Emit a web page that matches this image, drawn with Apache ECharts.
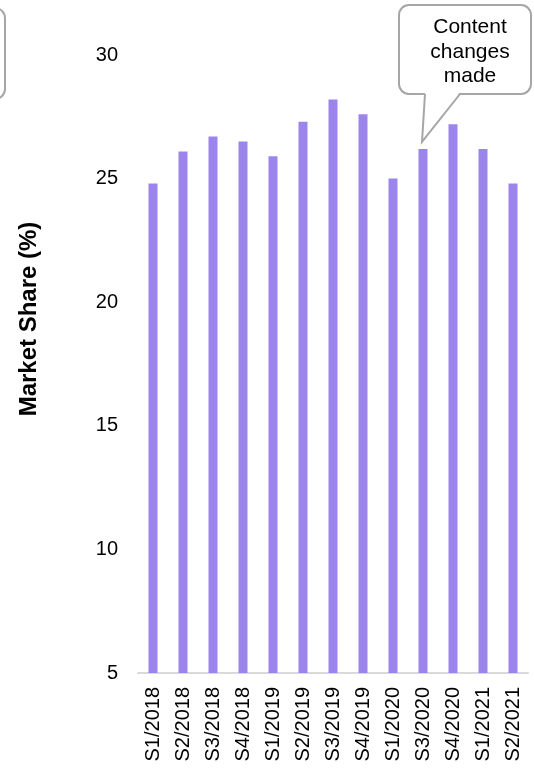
<!DOCTYPE html>
<html>
<head>
<meta charset="utf-8">
<script src="https://cdn.jsdelivr.net/npm/echarts@6/dist/echarts.min.js"></script>
<style>
html,body{margin:0;padding:0;background:#fff;}
#main{width:534px;height:769px;}
</style>
</head>
<body>
<div id="main"></div>
<script>
var categories = ['S1/2018','S2/2018','S3/2018','S4/2018','S1/2019','S2/2019','S3/2019','S4/2019','S1/2020','S3/2020','S4/2020','S1/2021','S2/2021'];
var marketShare = [24.8, 26.1, 26.7, 26.5, 25.9, 27.3, 28.2, 27.6, 25.0, 26.2, 27.2, 26.2, 24.8];
var yTicks = [5, 10, 15, 20, 25, 30];
var axisTitle = 'Market Share (%)';
var calloutText = 'Content\nchanges\nmade';
var calloutCategory = 'S3/2020';

var FONT = '"Liberation Sans", Arial, sans-serif';
var chart = echarts.init(document.getElementById('main'), null, {renderer: 'canvas'});

var option = {
  animation: false,
  backgroundColor: '#ffffff',
  grid: {left: 138, right: 6, top: 55, bottom: 96, containLabel: false},
  xAxis: {
    type: 'category',
    data: categories,
    axisLine: {show: true, lineStyle: {color: '#d9d9d9', width: 2}},
    axisTick: {show: false},
    axisLabel: {rotate: 90, interval: 0, margin: 14, color: '#000', fontSize: 20, fontFamily: FONT}
  },
  yAxis: {
    type: 'value',
    min: yTicks[0],
    max: yTicks[yTicks.length - 1],
    interval: yTicks[1] - yTicks[0],
    axisLine: {show: false},
    axisTick: {show: false},
    splitLine: {show: false},
    axisLabel: {margin: 20, color: '#000', fontSize: 20, fontFamily: FONT}
  },
  series: [{
    type: 'bar',
    data: marketShare,
    barWidth: 9,
    itemStyle: {color: '#9b84ec'}
  }]
};
chart.setOption(option);

var ci = categories.indexOf(calloutCategory);
var tip = chart.convertToPixel({seriesIndex: 0}, [ci, marketShare[ci]]);
var tx = tip[0] - 1, ty = tip[1] - 7;
var L = 399, T = 5, R = 531, B = 94;
var bx1 = tx + 3, bx2 = tx + 38;

chart.setOption({
  graphic: [
    {type: 'rect', z: 100, shape: {x: -30, y: 8, width: 35, height: 91, r: 10},
     style: {fill: '#fff', stroke: '#a6a6a6', lineWidth: 2}},
    {type: 'rect', z: 100, shape: {x: L, y: T, width: R - L, height: B - T, r: 10},
     style: {fill: '#fff', stroke: '#a6a6a6', lineWidth: 2}},
    {type: 'polygon', z: 101, shape: {points: [[bx1, B - 2], [bx2, B - 2], [tx, ty]]},
     style: {fill: '#fff', stroke: null}},
    {type: 'polyline', z: 102, shape: {points: [[bx1, B], [tx, ty], [bx2, B]]},
     style: {fill: null, stroke: '#a6a6a6', lineWidth: 2}},
    {type: 'text', z: 103, x: 470, y: 15,
     style: {text: calloutText, fill: '#000', font: '21px ' + FONT, textAlign: 'center', lineHeight: 24.5}},
    {type: 'text', z: 103, x: 29, y: 319, rotation: Math.PI / 2,
     style: {text: axisTitle, fill: '#000', font: 'bold 24px ' + FONT, textAlign: 'center', textVerticalAlign: 'middle'}}
  ]
});
</script>
</body>
</html>
